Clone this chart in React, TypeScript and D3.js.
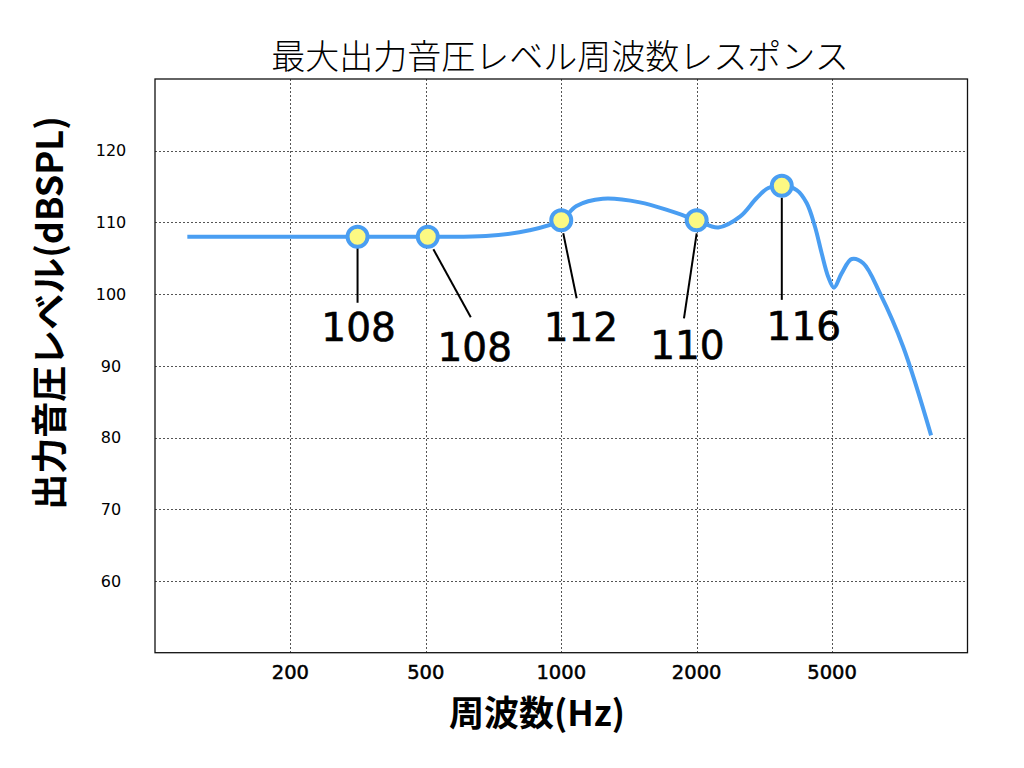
import React, { useEffect, useRef } from 'react';
import * as d3 from 'd3';

// frequency response curve
const curveFreq = [118, 315, 505, 680, 850, 1000, 1081, 1237, 1496, 1745, 2000, 2315, 2681, 3002, 3247, 3558, 3935, 4210, 4454, 4660, 4873, 5049, 5250, 5530, 5866, 6390, 7190, 8300];
const curveDb = [108, 108, 108, 108.1, 108.9, 110.3, 112.3, 113.3, 112.8, 111.6, 110.3, 109.3, 110.8, 113.4, 114.8, 115.1, 114.5, 112.7, 109.4, 105.7, 102.4, 100.9, 102.9, 104.9, 104.3, 100.1, 92.7, 80.3];

// marked points and their callout labels
const pointFreq = [315, 505, 1000, 2000, 3558];
const pointDb = [108, 108, 110.3, 110.3, 115.1];
const pointLabels = ['108', '108', '112', '110', '116'];

// axis ticks
const xDomain = [100, 200, 500, 1000, 2000, 5000, 10000];
const xTicks = [200, 500, 1000, 2000, 5000];
const yTicks = [60, 70, 80, 90, 100, 110, 120];

const title = '最大出力音圧レベル周波数レスポンス';
const xTitle = '周波数(Hz)';
const yTitle = '出力音圧レベル(dBSPL)';

// callout layout, offsets from each marker centre: leader start, leader end, text
const callouts = [
  { x1: 0, y1: 10, x2: 0, y2: 66, tx: 1, ty: 104 },
  { x1: 5.6, y1: 12.5, x2: 43, y2: 80.5, tx: 47, ty: 124 },
  { x1: 2, y1: 13, x2: 15.4, y2: 78, tx: 19.7, ty: 120.4 },
  { x1: 0, y1: 13, x2: -12.7, y2: 98, tx: -9.2, ty: 138.7 },
  { x1: 0, y1: 11.7, x2: 0, y2: 114, tx: 22, ty: 154 },
];

const App: React.FC = () => {
  const svgRef = useRef<SVGSVGElement | null>(null);

  useEffect(() => {
    const width = 1024;
    const height = 768;
    const left = 155;
    const right = 967.5;
    const top = 79;
    const bottom = 652.7;

    const svg = d3.select(svgRef.current)
      .attr('width', width)
      .attr('height', height);
    svg.selectAll('*').remove();

    // 1-2-5 frequency axis, every step the same width
    const step = (right - left) / (xDomain.length - 1);
    const xScale = d3.scaleLog()
      .domain(xDomain)
      .range(xDomain.map((_, i) => left + i * step));

    const yScale = d3.scaleLinear()
      .domain([50, 130])
      .range([bottom, top]);

    const jp = '"Noto Sans CJK JP", sans-serif';
    const latin = '"DejaVu Sans", sans-serif';

    // grid
    const grid = svg.append('g')
      .attr('stroke', '#555')
      .attr('stroke-width', 1)
      .attr('stroke-dasharray', '2,2');
    grid.selectAll('line.h')
      .data(yTicks)
      .join('line')
      .attr('class', 'h')
      .attr('x1', left)
      .attr('x2', right)
      .attr('y1', d => Math.round(yScale(d)) + 0.5)
      .attr('y2', d => Math.round(yScale(d)) + 0.5);
    grid.selectAll('line.v')
      .data(xTicks)
      .join('line')
      .attr('class', 'v')
      .attr('y1', top)
      .attr('y2', bottom)
      .attr('x1', d => Math.round(xScale(d)) + 0.5)
      .attr('x2', d => Math.round(xScale(d)) + 0.5);

    // frame
    svg.append('rect')
      .attr('x', left)
      .attr('y', top)
      .attr('width', right - left)
      .attr('height', bottom - top)
      .attr('fill', 'none')
      .attr('stroke', '#111')
      .attr('stroke-width', 1.3);

    // tick labels
    svg.append('g')
      .selectAll('text')
      .data(yTicks)
      .join('text')
      .attr('x', 111)
      .attr('y', d => yScale(d))
      .attr('dy', '0.36em')
      .attr('text-anchor', 'middle')
      .attr('font-family', latin)
      .attr('font-size', 16)
      .text(d => d);

    svg.append('g')
      .selectAll('text')
      .data(xTicks)
      .join('text')
      .attr('x', d => xScale(d))
      .attr('y', 679)
      .attr('text-anchor', 'middle')
      .attr('font-family', latin)
      .attr('font-size', 19.5)
      .attr('stroke', '#000')
      .attr('stroke-width', 0.5)
      .text(d => d);

    // titles
    svg.append('text')
      .attr('x', 560)
      .attr('y', 69)
      .attr('text-anchor', 'middle')
      .attr('font-family', jp)
      .attr('font-weight', 300)
      .attr('font-size', 34)
      .text(title);

    svg.append('text')
      .attr('x', 537)
      .attr('y', 726)
      .attr('text-anchor', 'middle')
      .attr('font-family', jp)
      .attr('font-weight', 700)
      .attr('font-size', 35)
      .text(xTitle);

    svg.append('text')
      .attr('transform', 'translate(63,313) rotate(-90)')
      .attr('text-anchor', 'middle')
      .attr('font-family', jp)
      .attr('font-weight', 700)
      .attr('font-size', 36)
      .text(yTitle);

    // response curve
    const curve = curveFreq.map((f, i) => [f, curveDb[i]] as [number, number]);
    const line = d3.line<[number, number]>()
      .x(d => xScale(d[0]))
      .y(d => yScale(d[1]))
      .curve(d3.curveCatmullRom.alpha(0.5));

    svg.append('path')
      .datum(curve)
      .attr('fill', 'none')
      .attr('stroke', '#4a9ef2')
      .attr('stroke-width', 4)
      .attr('d', line);

    const points = pointFreq.map((f, i) => ({
      x: xScale(f),
      y: yScale(pointDb[i]),
      label: pointLabels[i],
      c: callouts[i],
    }));

    // leader lines
    svg.append('g')
      .selectAll('line')
      .data(points)
      .join('line')
      .attr('x1', d => d.x + d.c.x1)
      .attr('y1', d => d.y + d.c.y1)
      .attr('x2', d => d.x + d.c.x2)
      .attr('y2', d => d.y + d.c.y2)
      .attr('stroke', '#000')
      .attr('stroke-width', 2);

    // markers
    svg.append('g')
      .selectAll('circle')
      .data(points)
      .join('circle')
      .attr('cx', d => d.x)
      .attr('cy', d => d.y)
      .attr('r', 10)
      .attr('fill', '#fcf983')
      .attr('stroke', '#4a9ef2')
      .attr('stroke-width', 4);

    // callout values
    svg.append('g')
      .selectAll('text')
      .data(points)
      .join('text')
      .attr('x', d => d.x + d.c.tx)
      .attr('y', d => d.y + d.c.ty)
      .attr('text-anchor', 'middle')
      .attr('font-family', latin)
      .attr('font-size', 39)
      .attr('stroke', '#000')
      .attr('stroke-width', 0.6)
      .text(d => d.label);
  }, []);

  return (
    <svg ref={svgRef} style={{ position: 'absolute', left: 0, top: 0, background: '#fff' }}></svg>
  );
};

export default App;
